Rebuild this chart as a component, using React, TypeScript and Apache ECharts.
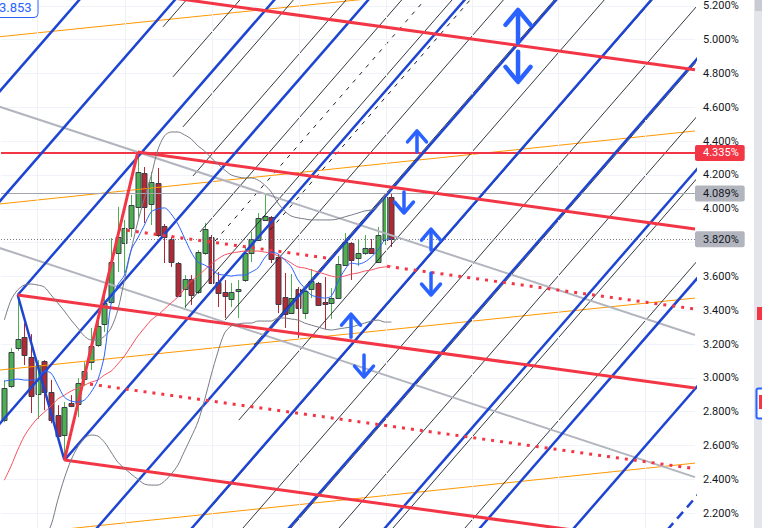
import React, { useEffect, useRef } from "react";
import * as echarts from "echarts";

// candle index -> [open, close, low, high] (yield, %)
const candleOHLC: number[][] = [
  [2.750, 2.940, 2.738, 2.987], [2.951, 3.153, 2.940, 3.176], [3.176, 3.230, 3.159, 3.490], [3.241, 3.135, 3.076, 3.324],
  [3.123, 2.892, 2.792, 3.259], [2.904, 3.076, 2.756, 3.105], [3.099, 2.916, 2.809, 3.105], [2.916, 2.750, 2.732, 2.988],
  [2.780, 2.656, 2.650, 2.839], [2.662, 2.827, 2.514, 2.857], [2.851, 2.833, 2.827, 2.898], [2.845, 2.969, 2.768, 2.999],
  [2.993, 3.040, 2.951, 3.093], [3.093, 3.188, 3.046, 3.295], [3.194, 3.306, 3.182, 3.354], [3.318, 3.443, 3.271, 3.490],
  [3.449, 3.685, 3.437, 3.827], [3.738, 3.833, 3.626, 4.011], [3.798, 3.886, 3.620, 3.934], [3.886, 4.022, 3.833, 4.082],
  [4.011, 4.218, 3.946, 4.335], [4.212, 4.011, 3.916, 4.247], [4.028, 4.159, 3.904, 4.218], [4.153, 3.845, 3.833, 4.241],
  [3.898, 3.833, 3.679, 3.910], [3.821, 3.685, 3.656, 3.833], [3.679, 3.484, 3.478, 3.685], [3.525, 3.585, 3.413, 3.608],
  [3.585, 3.490, 3.431, 3.608], [3.508, 3.744, 3.496, 3.756], [3.738, 3.880, 3.727, 3.916], [3.833, 3.561, 3.555, 3.845],
  [3.567, 3.502, 3.419, 3.626], [3.508, 3.484, 3.354, 3.579], [3.466, 3.508, 3.419, 3.561], [3.514, 3.525, 3.354, 3.579],
  [3.579, 3.738, 3.567, 3.774], [3.738, 3.821, 3.685, 3.863], [3.815, 3.945, 3.809, 3.975], [3.934, 3.957, 3.928, 4.082],
  [3.951, 3.703, 3.679, 3.957], [3.715, 3.437, 3.383, 3.733], [3.478, 3.378, 3.295, 3.620], [3.383, 3.472, 3.378, 3.614],
  [3.525, 3.413, 3.236, 3.537], [3.383, 3.514, 3.348, 3.520], [3.525, 3.573, 3.472, 3.644], [3.561, 3.431, 3.425, 3.567],
  [3.449, 3.440, 3.289, 3.596], [3.443, 3.472, 3.348, 3.531], [3.472, 3.673, 3.466, 3.721], [3.667, 3.803, 3.662, 3.857],
  [3.798, 3.697, 3.579, 3.803], [3.709, 3.738, 3.662, 3.821], [3.738, 3.768, 3.727, 3.845], [3.768, 3.738, 3.733, 3.821],
  [3.685, 3.845, 3.679, 3.893], [3.815, 4.070, 3.786, 4.082], [4.070, 3.820, 3.774, 4.089],
];

const fastMA = [
  2.981, 2.987, 2.993, 2.987, 2.987, 2.993, 3.040, 3.028, 2.957, 2.886, 2.863, 2.857, 2.869, 2.916, 2.987, 3.135,
  3.440, 3.550, 3.608, 3.756, 3.827, 3.904, 3.981, 3.999, 4.005, 3.969, 3.910, 3.827, 3.744, 3.685, 3.668, 3.644,
  3.614, 3.608, 3.602, 3.608, 3.608, 3.626, 3.650, 3.709, 3.744, 3.733, 3.697, 3.656, 3.579, 3.531, 3.490, 3.478,
  3.472, 3.484, 3.567, 3.638, 3.679, 3.673, 3.685, 3.715, 3.756, 3.815, 3.827,
];

const slowMA = [
  2.395, 2.478, 2.573, 2.656, 2.715, 2.762, 2.798, 2.833, 2.875, 2.898, 2.922, 2.940, 2.957, 2.975, 2.987, 3.017,
  3.040, 3.082, 3.129, 3.188, 3.247, 3.295, 3.342, 3.372, 3.407, 3.443, 3.478, 3.525, 3.573, 3.602, 3.638, 3.673,
  3.703, 3.727, 3.738, 3.744, 3.750, 3.750, 3.750, 3.744, 3.738, 3.721, 3.703, 3.679, 3.656, 3.650, 3.638, 3.626,
  3.614, 3.602, 3.596, 3.602, 3.614, 3.620, 3.632, 3.638, 3.650, 3.656, 3.662,
];

const bbUpper = [
  3.342, 3.460, 3.520, 3.549, 3.555, 3.549, 3.537, 3.490, 3.443, 3.395, 3.342, 3.295, 3.247, 3.224, 3.224, 3.247,
  3.295, 3.401, 3.579, 3.756, 3.922, 4.064, 4.194, 4.348, 4.431, 4.454, 4.454, 4.437, 4.413, 4.372, 4.342, 4.301,
  4.265, 4.230, 4.200, 4.188, 4.182, 4.182, 4.170, 4.141, 4.099, 4.034, 3.987, 3.957, 3.946, 3.940, 3.934, 3.934,
  3.934, 3.934, 3.940, 3.952, 3.963, 3.975, 3.987, 3.993, 4.017, 4.076, 4.123,
];

const bbLower = [
  1.449, 1.596, 1.744, 1.863, 1.952, 2.011, 2.058, 2.129, 2.277, 2.407, 2.514, 2.591, 2.644, 2.662, 2.656, 2.620,
  2.561, 2.502, 2.466, 2.431, 2.401, 2.372, 2.366, 2.366, 2.389, 2.431, 2.484, 2.567, 2.650, 2.739, 2.869, 3.017,
  3.153, 3.265, 3.307, 3.318, 3.324, 3.324, 3.336, 3.336, 3.336, 3.354, 3.354, 3.348, 3.342, 3.324, 3.312, 3.301,
  3.289, 3.283, 3.289, 3.295, 3.301, 3.312, 3.324, 3.336, 3.342, 3.330, 3.330,
];

// time grid (bar index)
const timeGridIdx = [4.89, 18.08, 31.12, 44.16, 57.19, 70.08, 82.97, 96.0];

// level lines
const lastHigh = 4.089;
const lastClose = 3.82;
const peakLevel = 4.335;
const cursorValue = "3.853";
const hiddenTicks = [2.0, 3.8, 5.4];

// trend lines: [barIdx1, value1, barIdx2, value2]
const redChannelLines = [
  [20, 5.275, 103.5, 4.822],
  [20, 4.335, 103.5, 3.880],
  [2, 3.490, 103.5, 2.940],
  [9, 2.514, 103.5, 2.001],
  [9, 2.514, 20, 4.335],
];
const redMedianLines = [
  [17.03, 3.880, 48.95, 3.705],
  [57.34, 3.660, 103.5, 3.407],
  [12.84, 2.963, 103.5, 2.463],
];
const grayLines = [
  [-1, 4.607, 103.5, 3.254],
  [-1, 3.772, 103.5, 2.413],
];
const orangeLines = [
  [-1, 5.016, 103.5, 5.440],
  [-1, 4.027, 103.5, 4.460],
  [-1, 3.045, 103.5, 3.472],
  [-1, 2.064, 103.5, 2.496],
];
const blueLines = [
  [-62.28, 1.9, 19.27, 5.6],
  [-47.95, 1.9, 33.6, 5.6],
  [2, 3.49, 48.51, 5.6],
  [-18.97, 1.9, 62.58, 5.6],
  [9, 2.514, 77.02, 5.6],
  [9.2, 1.9, 90.75, 5.6],
  [23.44, 1.9, 104.99, 5.6],
  [37.98, 1.9, 119.53, 5.6],
  [52.36, 1.9, 133.91, 5.6],
  [66.6, 1.9, 148.15, 5.6],
  [80.69, 1.9, 162.24, 5.6],
  [2, 3.49, 9, 2.514],
];
const blueDashedLines = [[94.92, 1.9, 176.47, 5.6]];
const blackLines = [
  [23.78, 5.076, 35.33, 5.6],
  [25.27, 4.780, 43.34, 5.6],
  [26.77, 4.484, 51.37, 5.6],
  [28.27, 4.194, 59.26, 5.6],
  [29.32, 3.863, 67.60, 5.6],
  [27.07, 3.419, 75.14, 5.6],
  [33.07, 3.342, 82.84, 5.6],
  [37.42, 3.194, 90.45, 5.6],
  [35.13, 2.750, 97.95, 5.6],
  [31.23, 2.247, 105.14, 5.6],
  [31.08, 1.9, 112.63, 5.6],
  [38.28, 1.9, 119.83, 5.6],
  [45.47, 1.9, 127.02, 5.6],
  [53.56, 1.9, 135.11, 5.6],
  [64.35, 1.9, 145.9, 5.6],
];
const blackDashedLines = [
  [31.57, 3.809, 71.05, 5.6],
  [39.81, 3.874, 77.85, 5.6],
];

// arrows: [barIdx, tailValue, tipValue]
const bigArrows = [
  [76.98, 4.981, 5.176],
  [76.98, 4.928, 4.750],
];
const smallArrows = [
  [61.84, 4.336, 4.460],
  [59.89, 4.099, 3.975],
  [63.94, 3.756, 3.880],
  [63.94, 3.620, 3.490],
  [51.95, 3.241, 3.377],
  [53.9, 3.135, 3.005],
];

const UP = "#4caf50";
const DOWN = "#b22833";
const BORDER = "#3b3e48";
const ARROW = "#2962ff";

function seg(l: number[], lineStyle: any, z: number) {
  return {
    type: "line",
    data: [[l[0], l[1]], [l[2], l[3]]],
    symbol: "none",
    silent: true,
    z,
    lineStyle,
    emphasis: { disabled: true },
  };
}

function arrowRenderer(headHalf: number, headLen: number, width: number) {
  return (params: any, api: any) => {
    const i = api.value(0);
    const tail = api.coord([i, api.value(1)]);
    const tip = api.coord([i, api.value(2)]);
    const dir = tip[1] < tail[1] ? -1 : 1;
    const hy = tip[1] - dir * headLen;
    const style = { stroke: ARROW, lineWidth: width, lineCap: "round", lineJoin: "round", fill: null };
    return {
      type: "group",
      children: [
        { type: "line", shape: { x1: tail[0], y1: tail[1], x2: tip[0], y2: tip[1] - dir * 2 }, style },
        { type: "polyline", shape: { points: [[tip[0] - headHalf, hy], [tip[0], tip[1]], [tip[0] + headHalf, hy]] }, style },
      ],
    };
  };
}

export default function App() {
  const ref = useRef<HTMLDivElement>(null);
  useEffect(() => {
    const chart = echarts.init(ref.current!, null, { renderer: "svg" });
    const series: any[] = [];

    series.push({
      type: "line",
      data: [],
      silent: true,
      z: 1,
      markLine: {
        silent: true,
        symbol: ["none", "none"],
        label: { show: false },
        lineStyle: { color: "#eff1f5", width: 1, type: "solid" },
        data: timeGridIdx.map((v) => ({ xAxis: v })),
      },
    });

    series.push({
      type: "custom",
      z: 3,
      silent: true,
      clip: true,
      data: candleOHLC.map((c, i) => [i, c[0], c[1], c[2], c[3]]),
      encode: { x: 0, y: [1, 2, 3, 4] },
      renderItem: (params: any, api: any) => {
        const i = api.value(0);
        const o = api.value(1), c = api.value(2), l = api.value(3), h = api.value(4);
        const pO = api.coord([i, o]);
        const pC = api.coord([i, c]);
        const pL = api.coord([i, l]);
        const pH = api.coord([i, h]);
        const w = Math.round(api.size([1, 0])[0] * 0.7);
        const up = c >= o;
        const x = Math.round(pO[0]) + 0.5;
        const top = Math.round(Math.min(pO[1], pC[1])) + 0.5;
        const bh = Math.max(Math.round(Math.abs(pO[1] - pC[1])), 1);
        return {
          type: "group",
          children: [
            { type: "line", shape: { x1: x, y1: pH[1], x2: x, y2: pL[1] }, style: { stroke: up ? UP : DOWN, lineWidth: 1 } },
            {
              type: "rect",
              shape: { x: x - w / 2, y: top, width: w, height: bh },
              style: { fill: up ? UP : DOWN, stroke: BORDER, lineWidth: 1 },
            },
          ],
        };
      },
    });

    orangeLines.forEach((l) => series.push(seg(l, { color: "#ff9800", width: 1 }, 4)));
    blackLines.forEach((l) => series.push(seg(l, { color: "#1e222d", width: 1, opacity: 0.9 }, 4)));
    blackDashedLines.forEach((l) => series.push(seg(l, { color: "#1e222d", width: 1, type: [4, 6] }, 4)));
    grayLines.forEach((l) => series.push(seg(l, { color: "#b2b5be", width: 2 }, 5)));
    blueLines.forEach((l) => series.push(seg(l, { color: "#1e45d2", width: 2.5 }, 6)));
    blueDashedLines.forEach((l) => series.push(seg(l, { color: "#1e45d2", width: 2.5, type: [9, 6] }, 6)));
    redChannelLines.forEach((l) => series.push(seg(l, { color: "#f23645", width: 3 }, 7)));
    redMedianLines.forEach((l) => series.push(seg(l, { color: "#f23645", width: 3, type: [3, 6] }, 7)));

    const ind = (arr: number[], color: string) => ({
      type: "line",
      data: arr.map((v, i) => [i, v]),
      symbol: "none",
      silent: true,
      z: 8,
      smooth: 0.3,
      lineStyle: { color, width: 1 },
    });
    series.push(ind(bbUpper, "#787b86"));
    series.push(ind(bbLower, "#787b86"));
    series.push(ind(slowMA, "#f7525f"));
    series.push(ind(fastMA, "#2962ff"));

    series.push({ type: "custom", z: 9, silent: true, clip: true, data: bigArrows, renderItem: arrowRenderer(12.5, 15, 4.5) });
    series.push({ type: "custom", z: 9, silent: true, clip: true, data: smallArrows, renderItem: arrowRenderer(9.5, 11, 3.5) });

    const lvlLabel = (bg: string, fg: string) => ({
      show: true,
      position: "end",
      distance: 0,
      backgroundColor: bg,
      color: fg,
      padding: [3, 6, 2, 8],
      borderRadius: 2,
      fontSize: 11,
      fontFamily: "Roboto",
    });
    series.push({
      type: "line",
      data: [],
      silent: true,
      z: 10,
      markLine: {
        silent: true,
        symbol: ["none", "none"],
        data: [
          { yAxis: lastClose, lineStyle: { color: "#787b86", width: 1, type: [1, 2] }, label: { ...lvlLabel("#b2b5be", "#131722"), formatter: lastClose.toFixed(3) + "%" } },
          { yAxis: lastHigh, lineStyle: { color: "#a3a6af", width: 1, type: "solid" }, label: { ...lvlLabel("#b2b5be", "#131722"), formatter: lastHigh.toFixed(3) + "%" } },
          { yAxis: peakLevel, lineStyle: { color: "#f23645", width: 2, type: "solid" }, label: { ...lvlLabel("#f23645", "#ffffff"), formatter: peakLevel.toFixed(3) + "%" } },
        ],
      },
    });

    chart.setOption({
      animation: false,
      backgroundColor: "#ffffff",
      grid: { left: 1, right: 67, top: -28, bottom: -19, containLabel: false, outerBoundsMode: "none" },
      xAxis: { type: "value", min: -0.5, max: 103.5, show: false },
      yAxis: {
        type: "value",
        position: "right",
        min: 2.0,
        max: 5.4,
        interval: 0.2,
        axisLine: { show: false },
        axisTick: { show: false },
        splitLine: { lineStyle: { color: "#f0f3fa", width: 1 } },
        axisLabel: {
          formatter: (v: number) => (hiddenTicks.some((h) => Math.abs(h - v) < 1e-6) ? "" : v.toFixed(3) + "%"),
          color: "#131722",
          fontSize: 11,
          fontFamily: "Roboto",
          margin: 8,
        },
      },
      graphic: [
        { type: "rect", z: 100, shape: { x: 754, y: 0, width: 8, height: 528 }, style: { fill: "#e3e5eb" } },
        { type: "rect", z: 101, shape: { x: 755, y: 0, width: 7, height: 11 }, style: { fill: "#c8cbd3" } },
        { type: "rect", z: 101, shape: { x: 757, y: 307, width: 5, height: 13 }, style: { fill: "#f23645" } },
        { type: "rect", z: 101, shape: { x: 756.5, y: 388.5, width: 8, height: 30, r: 2 }, style: { fill: "#ffffff", stroke: "#2962ff", lineWidth: 2 } },
        { type: "rect", z: 102, shape: { x: 759, y: 395, width: 4, height: 14 }, style: { fill: "#f23645" } },
        { type: "rect", z: 100, shape: { x: -6, y: -6, width: 44, height: 23.5, r: 4 }, style: { fill: "#ffffff", stroke: "#2962ff", lineWidth: 1 } },
        { type: "text", z: 101, x: -1, y: 7.5, style: { text: cursorValue, fill: "#2962ff", font: "13px Roboto", verticalAlign: "middle" } },
      ],
      series,
    });
    return () => chart.dispose();
  }, []);
  return <div ref={ref} style={{ position: "absolute", left: 0, top: 0, width: 762, height: 528, background: "#fff" }} />;
}
